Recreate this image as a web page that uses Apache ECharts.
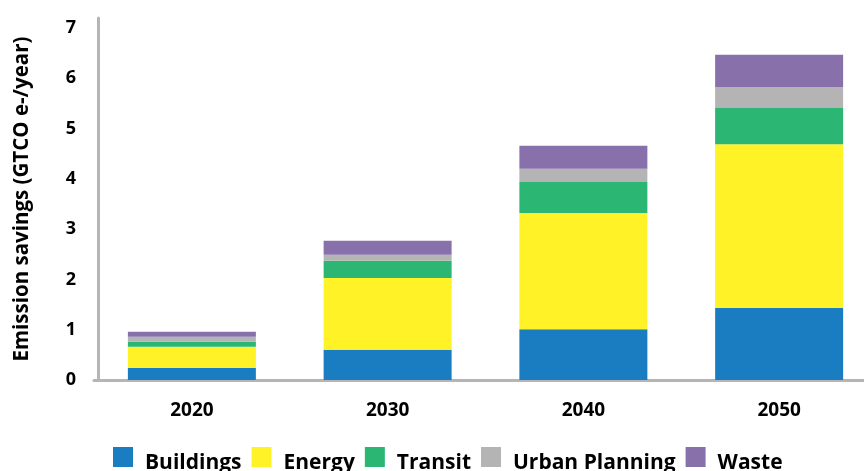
<!DOCTYPE html>
<html>
<head>
<meta charset="utf-8">
<script src="https://cdn.jsdelivr.net/npm/echarts@6/dist/echarts.min.js"></script>
<style>
  html, body { margin: 0; padding: 0; background: #fff; }
  #chart { width: 864px; height: 471px; }
</style>
</head>
<body>
<div id="chart"></div>
<script>
const years = ["2020", "2030", "2040", "2050"]
const buildings = [0.24, 0.6, 1.01, 1.43]
const energy = [0.42, 1.43, 2.31, 3.26]
const transit = [0.1, 0.34, 0.62, 0.72]
const urbanPlanning = [0.1, 0.12, 0.26, 0.42]
const waste = [0.1, 0.28, 0.46, 0.64]

const seriesDefs = [
	{ name: "Buildings", data: buildings, color: "#1a7dc2" },
	{ name: "Energy", data: energy, color: "#fff226" },
	{ name: "Transit", data: transit, color: "#2bb673" },
	{ name: "Urban Planning", data: urbanPlanning, color: "#b3b4b3" },
	{ name: "Waste", data: waste, color: "#8870ab" },
]

const font = "'Open Sans', 'Noto Sans', sans-serif"
const chart = echarts.init(document.getElementById("chart"))

chart.setOption({
	animation: false,
	textStyle: { fontFamily: font },
	grid: {
		top: 18,
		bottom: 91,
		left: 94,
		width: 783,
		outerBoundsMode: "none",
		containLabel: false,
	},
	legend: {
		left: 108,
		top: 442,
		itemWidth: 20,
		itemHeight: 20,
		itemGap: 10,
		icon: "rect",
		formatter: (name) => "{t|" + name + "}",
		textStyle: {
			fontSize: 21,
			fontWeight: "bold",
			color: "#000",
			fontFamily: font,
			padding: [0, 0, 0, 7],
			rich: {
				t: {
					fontSize: 21,
					fontWeight: "bold",
					color: "#000",
					fontFamily: font,
					padding: [12, 0, 0, 0],
				},
			},
		},
		data: seriesDefs.map((s) => s.name),
	},
	xAxis: {
		type: "category",
		data: years,
		axisLine: { lineStyle: { color: "#b5b5b5", width: 3 } },
		axisTick: { show: false },
		axisLabel: { fontSize: 19, fontWeight: "bold", color: "#000", margin: 21 },
	},
	yAxis: {
		type: "value",
		min: 0,
		max: 7.2,
		interval: 1,
		offset: -4,
		name: "Emission savings (GTCO e-/year)",
		nameLocation: "middle",
		nameGap: 65,
		nameTextStyle: { fontSize: 20.5, fontWeight: "bold", color: "#000" },
		axisLine: { show: true, lineStyle: { color: "#b5b5b5", width: 3 } },
		axisTick: { show: false },
		splitLine: { show: false },
		axisLabel: { fontSize: 18, fontWeight: "bold", color: "#000", margin: 22, showMaxLabel: false },
	},
	series: seriesDefs.map((s) => ({
		name: s.name,
		type: "bar",
		stack: "total",
		barWidth: 128,
		itemStyle: { color: s.color },
		data: s.data,
	})),
})
</script>
</body>
</html>
